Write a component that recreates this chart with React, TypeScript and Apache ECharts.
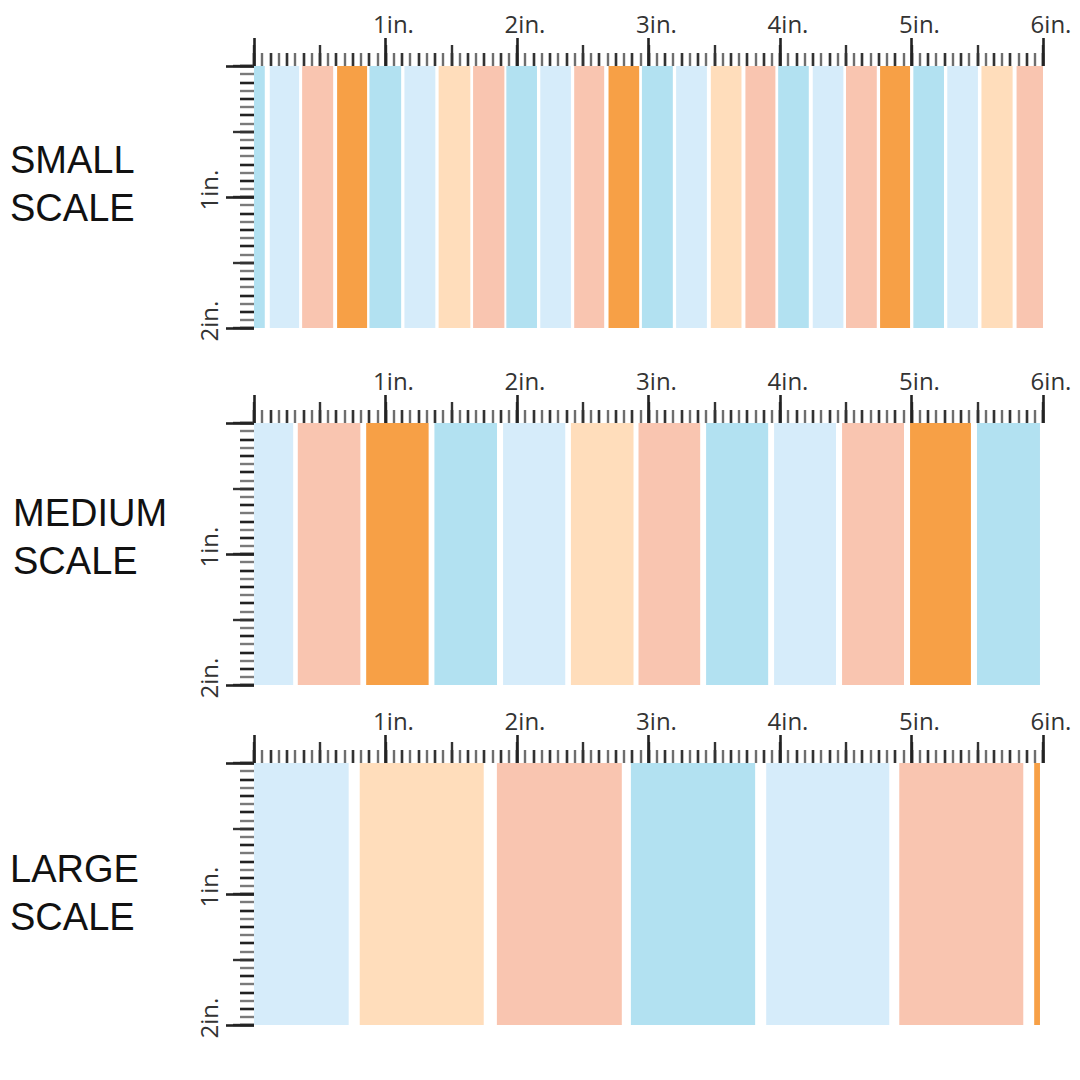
import React, { useEffect, useRef } from "react";
import * as echarts from "echarts";

// Stripe colours
const COLORS: Record<string, string> = {
  lb: "#B2E1F1", // light blue
  pb: "#D6ECFA", // pale blue
  pe: "#F9C5B0", // peach
  or: "#F7A046", // orange
  cr: "#FFDDBB", // cream
};

// Stripes: [colour, start inch, end inch]
const smallStripes: [string, number, number][] = [
  ["lb", 0, 0.082], ["pb", 0.12, 0.343], ["pe", 0.366, 0.602], ["or", 0.632, 0.86],
  ["lb", 0.878, 1.119], ["pb", 1.144, 1.379], ["cr", 1.404, 1.645], ["pe", 1.666, 1.904],
  ["lb", 1.919, 2.152], ["pb", 2.177, 2.41], ["pe", 2.435, 2.663], ["or", 2.696, 2.929],
  ["lb", 2.95, 3.185], ["pb", 3.21, 3.444], ["cr", 3.474, 3.707], ["pe", 3.737, 3.965],
  ["lb", 3.986, 4.219], ["pb", 4.249, 4.482], ["pe", 4.502, 4.736], ["or", 4.761, 4.989],
  ["lb", 5.014, 5.247], ["pb", 5.272, 5.505], ["cr", 5.532, 5.769], ["pe", 5.799, 6.0],
];
const mediumStripes: [string, number, number][] = [
  ["pb", 0, 0.298], ["pe", 0.333, 0.809], ["or", 0.853, 1.328], ["lb", 1.372, 1.848],
  ["pb", 1.894, 2.367], ["cr", 2.41, 2.886], ["pe", 2.924, 3.393], ["lb", 3.438, 3.91],
  ["pb", 3.955, 4.426], ["pe", 4.472, 4.943], ["or", 4.989, 5.452], ["lb", 5.498, 5.977],
];
const largeStripes: [string, number, number][] = [
  ["pb", 0, 0.72], ["cr", 0.804, 1.747], ["pe", 1.847, 2.797], ["lb", 2.866, 3.811],
  ["pb", 3.895, 4.831], ["pe", 4.907, 5.85], ["or", 5.933, 5.977],
];

const panelTitles = ["SMALL\nSCALE", "MEDIUM\nSCALE", "LARGE\nSCALE"];
const xTickLabels = ["", "1in.", "2in.", "3in.", "4in.", "5in.", "6in."];
const yTickLabels = ["", "1in.", "2in."];

const X_MAX = 6;
const Y_MAX = 2;

const gridTops = [66, 423, 763];
const titleYs = [184, 537, 893];
const titleXs = [10, 13, 10];

const FONT = "'Open Sans', 'Noto Sans', sans-serif";

function makeXAxes(gridIndex: number) {
  const base = {
    gridIndex,
    type: "value",
    position: "top",
    min: 0,
    max: X_MAX,
    axisLine: { show: false },
    splitLine: { show: false },
    axisLabel: { show: false },
  };
  return [
    { ...base, interval: 0.0625, axisTick: { length: 13, lineStyle: { color: "#6e6e6e", width: 2.4 } } },
    { ...base, interval: 0.125, axisTick: { length: 13, lineStyle: { color: "#333", width: 2.4 } } },
    { ...base, interval: 0.5, axisTick: { length: 21, lineStyle: { color: "#333", width: 2.4 } } },
    {
      ...base,
      interval: 1,
      axisTick: { length: 28, lineStyle: { color: "#222", width: 2.6 } },
      axisLabel: {
        show: true,
        margin: 31,
        fontSize: 24,
        fontFamily: FONT,
        color: "#333",
        padding: [0, 0, 0, 16],
        formatter: (v: number) => xTickLabels[Math.round(v)] ?? "",
      },
    },
  ];
}

function makeYAxes(gridIndex: number) {
  const base = {
    gridIndex,
    type: "value",
    position: "left",
    inverse: true,
    min: 0,
    max: Y_MAX,
    axisLine: { show: false },
    splitLine: { show: false },
    axisLabel: { show: false },
  };
  return [
    { ...base, interval: 0.0625, axisTick: { length: 14, lineStyle: { color: "#7a7a7a", width: 2.4 } } },
    { ...base, interval: 0.125, axisTick: { length: 14, lineStyle: { color: "#222", width: 2.4 } } },
    { ...base, interval: 0.5, axisTick: { length: 21, lineStyle: { color: "#333", width: 2.4 } } },
    {
      ...base,
      interval: 1,
      axisTick: { length: 28, lineStyle: { color: "#222", width: 2.6 } },
      axisLabel: {
        show: true,
        rotate: 90,
        margin: 34,
        fontSize: 24,
        fontFamily: FONT,
        color: "#333",
        padding: [0, 0, 0, 14],
        formatter: (v: number) => yTickLabels[Math.round(v)] ?? "",
      },
    },
  ];
}

export default function App() {
  const ref = useRef<HTMLDivElement>(null);

  useEffect(() => {
    if (!ref.current) return;
    const chart = echarts.init(ref.current, undefined, { renderer: "svg" });
    const panels = [smallStripes, mediumStripes, largeStripes];

    const grids = gridTops.map((top) => ({ left: 254, width: 789, top, height: 262 }));
    const xAxis: any[] = [];
    const yAxis: any[] = [];
    panels.forEach((_, i) => {
      xAxis.push(...makeXAxes(i));
      yAxis.push(...makeYAxes(i));
    });

    const series = panels.map((stripes, i) => ({
      type: "custom",
      xAxisIndex: i * 4 + 3,
      yAxisIndex: i * 4 + 3,
      data: stripes.map(([c, s, e]) => ({ value: [s, e], itemStyle: { color: COLORS[c] } })),
      renderItem: (params: any, api: any) => {
        const p0 = api.coord([api.value(0), 0]);
        const p1 = api.coord([api.value(1), Y_MAX]);
        return {
          type: "rect",
          shape: { x: p0[0], y: p0[1], width: p1[0] - p0[0], height: p1[1] - p0[1] },
          style: { fill: api.visual("color") },
        };
      },
    }));

    const graphic = panelTitles.map((t, i) => ({
      type: "text",
      x: titleXs[i],
      y: titleYs[i],
      style: {
        text: t,
        fontSize: 38,
        fontFamily: "'Liberation Sans', Arial, sans-serif",
        fill: "#111",
        lineHeight: 48,
        align: "left",
        verticalAlign: "middle",
      },
    }));

    chart.setOption({
      animation: false,
      backgroundColor: "#ffffff",
      grid: grids,
      xAxis,
      yAxis,
      series,
      graphic,
    });
    return () => chart.dispose();
  }, []);

  return (
    <div
      ref={ref}
      style={{ position: "absolute", left: 0, top: 0, width: 1080, height: 1080, background: "#fff" }}
    />
  );
}
